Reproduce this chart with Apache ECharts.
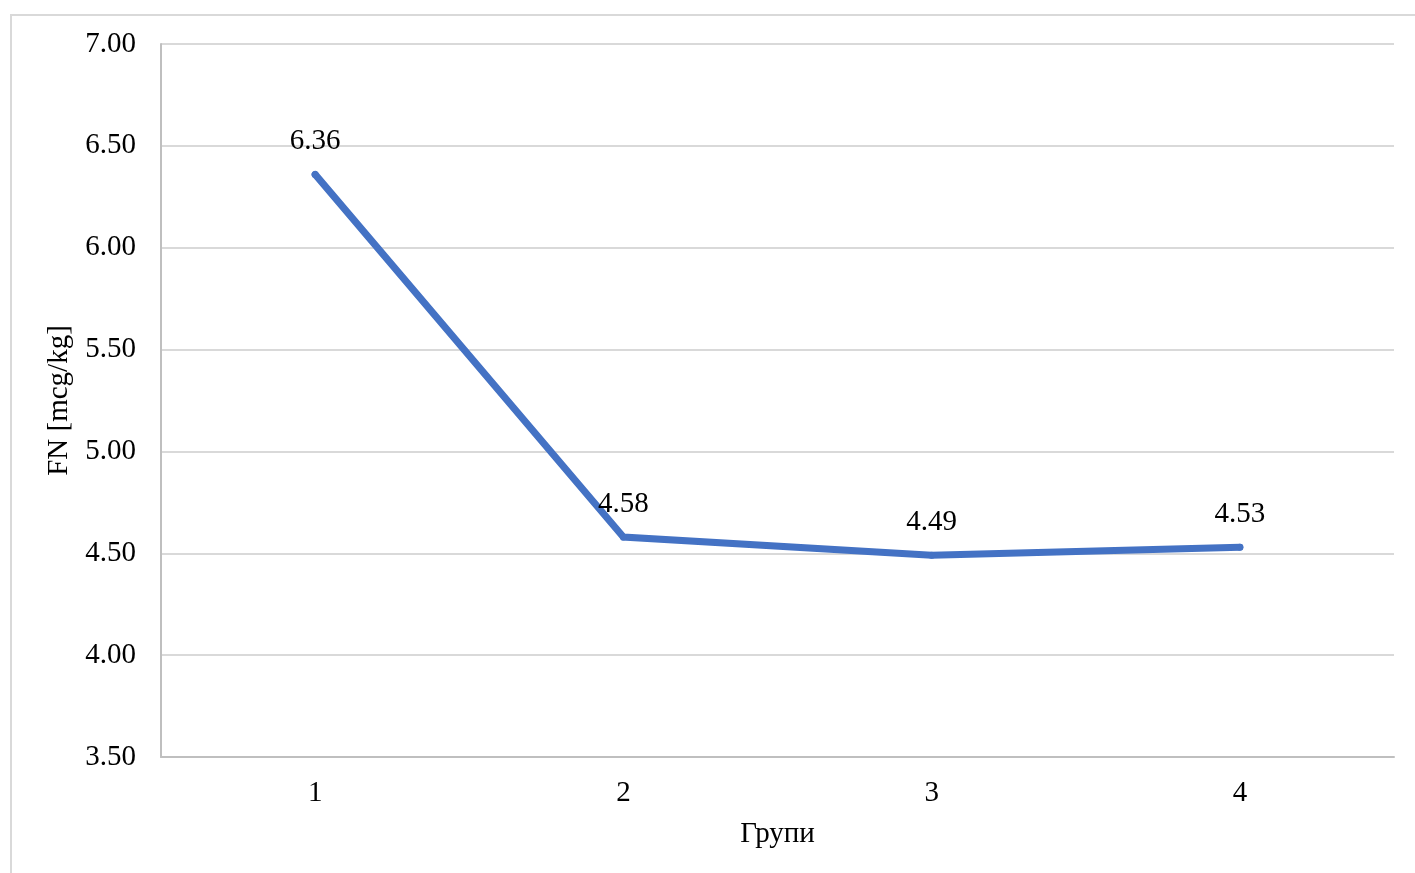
<!DOCTYPE html>
<html>
<head>
<meta charset="utf-8">
<script src="https://cdn.jsdelivr.net/npm/echarts@6/dist/echarts.min.js"></script>
<style>
  html, body { margin: 0; padding: 0; background: #fff; }
  #frame { position: absolute; left: 10px; top: 14px; width: 1420px; height: 880px; border: 2px solid #d9d9d9; box-sizing: border-box; }
  #main { position: absolute; left: 0; top: 0; width: 1415px; height: 873px; }
</style>
</head>
<body>
<div id="frame"></div>
<div id="main"></div>
<script>
// 数据
var groups = ['1', '2', '3', '4'];
var fnValues = [6.36, 4.58, 4.49, 4.53];
var yMin = 3.5, yMax = 7, yStep = 0.5;

var chart = echarts.init(document.getElementById('main'));
var font = '"Liberation Serif", "Times New Roman", serif';
var fs = 29;

chart.setOption({
  textStyle: { fontFamily: font },
  grid: { left: 161, right: 21, top: 44, bottom: 116, containLabel: false },
  xAxis: {
    type: 'category',
    data: groups,
    boundaryGap: true,
    name: 'Групи',
    nameLocation: 'middle',
    nameGap: 63,
    nameTextStyle: { fontFamily: font, fontSize: fs, color: '#000' },
    axisLine: { lineStyle: { color: '#bfbfbf', width: 2 } },
    axisTick: { show: false },
    axisLabel: { fontFamily: font, fontSize: fs, color: '#000', margin: 22 }
  },
  yAxis: {
    type: 'value',
    min: yMin,
    max: yMax,
    interval: yStep,
    name: 'FN [mcg/kg]',
    nameLocation: 'middle',
    nameGap: 82,
    nameRotate: 90,
    nameTextStyle: { fontFamily: font, fontSize: fs, color: '#000' },
    axisLine: { show: true, lineStyle: { color: '#bfbfbf', width: 2 } },
    axisTick: { show: false },
    splitLine: { lineStyle: { color: '#d9d9d9', width: 2 } },
    axisLabel: {
      fontFamily: font, fontSize: fs, color: '#000', margin: 25,
      verticalAlign: 'middle', padding: [4, 0, 0, 0],
      formatter: function (v) { return v.toFixed(2); }
    }
  },
  series: [{
    type: 'line',
    data: fnValues,
    symbol: 'circle',
    symbolSize: 7,
    showSymbol: true,
    lineStyle: { color: '#4472c4', width: 7, cap: 'round', join: 'miter' },
    itemStyle: { color: '#4472c4', borderWidth: 0 },
    label: {
      show: true,
      position: 'top',
      distance: 15,
      fontFamily: font,
      fontSize: fs,
      color: '#000',
      formatter: function (p) { return p.value.toFixed(2); }
    }
  }],
  animation: false
});
</script>
</body>
</html>
